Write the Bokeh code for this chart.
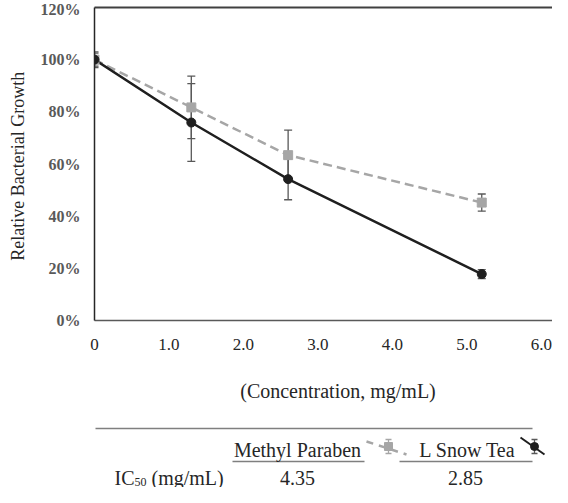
from bokeh.plotting import figure
from bokeh.models import (ColumnDataSource, Whisker, TeeHead, LinearAxis, FixedTicker,
                          Range1d, NumeralTickFormatter)
from bokeh.layouts import column
from bokeh.embed import file_html
from bokeh.resources import INLINE
from bokeh.core.properties import value

# ---------------- data ----------------
concentration = [0, 1.3, 2.6, 5.2]
methyl_paraben = [1.00, 0.817, 0.634, 0.452]
methyl_paraben_err = [0.03, 0.12, 0.096, 0.033]
snow_tea = [1.00, 0.759, 0.542, 0.178]
snow_tea_err = [0.025, 0.149, 0.079, 0.017]
x_ticks = [0, 1, 2, 3, 4, 5, 6]
x_tick_labels = ["0", "1.0", "2.0", "3.0", "4.0", "5.0", "6.0"]
y_ticks = [0, 0.2, 0.4, 0.6, 0.8, 1.0, 1.2]
series_names = ["Methyl Paraben", "L Snow Tea"]
ic50_values = ["4.35", "2.85"]

FONT = "Liberation Serif"
W = 552
LEFT = 94
GRAY = "#a6a6a6"
DARK = "#1f1f1f"
ERR = "#595959"

# ---------------- chart ----------------
p = figure(width=W, height=365, x_range=Range1d(0, 6.15), y_range=Range1d(0, 1.2),
           output_backend="svg", toolbar_location=None,
           min_border_left=LEFT, min_border_right=0, min_border_top=7, min_border_bottom=45)
p.grid.visible = False
p.outline_line_color = None

p.xaxis.ticker = FixedTicker(ticks=x_ticks)
p.xaxis.major_label_overrides = {t: l for t, l in zip(x_ticks, x_tick_labels)}
p.xaxis.axis_line_color = "#595959"
p.xaxis.axis_line_width = 1.5
p.xaxis.major_tick_line_color = None
p.xaxis.minor_tick_line_color = None
p.xaxis.major_tick_out = 0
p.xaxis.minor_tick_out = 0
p.xaxis.major_label_standoff = 18
p.xaxis.major_label_text_font = FONT
p.xaxis.major_label_text_font_size = "17px"
p.xaxis.major_label_text_color = "#262626"

p.yaxis.ticker = FixedTicker(ticks=y_ticks)
p.yaxis.formatter = NumeralTickFormatter(format="0%")
p.yaxis.axis_line_color = "#262626"
p.yaxis.axis_line_width = 1.5
p.yaxis.major_tick_line_color = None
p.yaxis.minor_tick_line_color = None
p.yaxis.major_tick_out = 0
p.yaxis.minor_tick_out = 0
p.yaxis.major_label_standoff = 14
p.yaxis.major_label_text_font = FONT
p.yaxis.major_label_text_font_size = "16px"
p.yaxis.major_label_text_font_style = "bold"
p.yaxis.major_label_text_color = "#595959"
p.yaxis.axis_label = "Relative  Bacterial Growth"
p.yaxis.axis_label_text_font = FONT
p.yaxis.axis_label_text_font_size = "18px"
p.yaxis.axis_label_text_font_style = "normal"
p.yaxis.axis_label_text_color = "#262626"
p.yaxis.axis_label_standoff = 10

top_axis = LinearAxis(ticker=FixedTicker(ticks=[]), axis_line_color="#404040", axis_line_width=2,
                      major_tick_line_color=None, minor_tick_line_color=None,
                      major_tick_out=0, minor_tick_out=0)
p.add_layout(top_axis, "above")

mp_src = ColumnDataSource(dict(
    x=concentration, y=methyl_paraben,
    upper=[v + e for v, e in zip(methyl_paraben, methyl_paraben_err)],
    lower=[v - e for v, e in zip(methyl_paraben, methyl_paraben_err)]))
st_src = ColumnDataSource(dict(
    x=concentration, y=snow_tea,
    upper=[v + e for v, e in zip(snow_tea, snow_tea_err)],
    lower=[v - e for v, e in zip(snow_tea, snow_tea_err)]))

p.line("x", "y", source=mp_src, line_color=GRAY, line_width=2.5, line_dash="9 5")
p.line("x", "y", source=st_src, line_color=DARK, line_width=2.5)

for src in (mp_src, st_src):
    p.add_layout(Whisker(base="x", upper="upper", lower="lower", source=src,
                         line_color=ERR, line_width=1.3,
                         upper_head=TeeHead(size=8, line_color=ERR, line_width=1.3),
                         lower_head=TeeHead(size=8, line_color=ERR, line_width=1.3)))

p.scatter("x", "y", source=mp_src, marker="square", size=9, fill_color=GRAY, line_color=GRAY)
p.scatter("x", "y", source=st_src, marker="circle", size=9, fill_color=DARK, line_color=DARK)

# ---------------- x label + IC50 table ----------------
# (the column aligns this frame with the chart frame, so it spans x = LEFT..W)
H2 = 122
t = figure(width=W, height=H2, x_range=Range1d(LEFT, W), y_range=Range1d(H2, 0),
           output_backend="svg", toolbar_location=None, min_border=0,
           min_border_left=LEFT, x_axis_type=None, y_axis_type=None)
t.grid.visible = False
t.outline_line_color = None

txt = dict(text_font=value(FONT), text_color="#262626", text_baseline="middle")
t.text(x=[340], y=[25], text=["(Concentration,  mg/mL)"], text_align="center",
       text_font_size="20px", **txt)

# table rules
t.segment(x0=[95], y0=[63], x1=[532], y1=[63], line_color="#7f7f7f", line_width=1.5)
t.segment(x0=[232, 399], y0=[96, 96], x1=[364, 532], y1=[96, 96], line_color="#7f7f7f", line_width=1.5)

# header row
t.text(x=[297, 467], y=[84, 84], text=series_names, text_align="center",
       text_font_size="20px", **txt)

# legend icons
t.line(x=[366, 406], y=[76, 89], line_color=GRAY, line_width=2.5, line_dash="7 6")
t.segment(x0=[388], y0=[74], x1=[388], y1=[88], line_color=GRAY, line_width=1.3)
t.segment(x0=[385, 385], y0=[74, 88], x1=[391, 391], y1=[74, 88], line_color=GRAY, line_width=1.3)
t.scatter(x=[388], y=[81], marker="square", size=8, fill_color=GRAY, line_color=GRAY)

t.line(x=[520, 544], y=[72, 89], line_color=DARK, line_width=2)
t.segment(x0=[534], y0=[74], x1=[534], y1=[88], line_color=ERR, line_width=1.3)
t.segment(x0=[531, 531], y0=[74, 88], x1=[537, 537], y1=[74, 88], line_color=ERR, line_width=1.3)
t.scatter(x=[534], y=[81], marker="circle", size=8, fill_color=DARK, line_color=DARK)

# IC50 row
t.text(x=[114], y=[112], text=["IC"], text_align="left", text_font_size="20px", **txt)
t.text(x=[134], y=[116], text=["50"], text_align="left", text_font_size="12px", **txt)
t.text(x=[151], y=[112], text=["(mg/mL)"], text_align="left", text_font_size="20px", **txt)
t.text(x=[297, 465], y=[112, 112], text=ic50_values, text_align="center",
       text_font_size="20px", **txt)

layout = column(p, t, spacing=0)
open("out.html", "w").write(file_html(layout, INLINE))
